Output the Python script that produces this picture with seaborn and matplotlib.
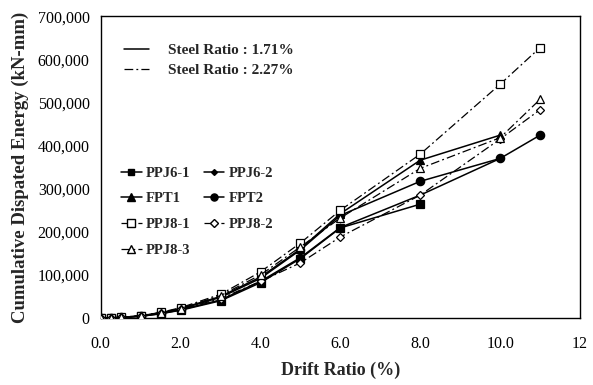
import matplotlib
matplotlib.use("Agg")
import matplotlib.pyplot as plt
from matplotlib.lines import Line2D
from matplotlib.ticker import FuncFormatter, MultipleLocator
import seaborn as sns
import pandas as pd

drift = [0, 0.25, 0.5, 1.0, 1.5, 2.0, 3.0, 4.0, 5.0, 6.0, 8.0, 10.0, 11.0]

names = ["PPJ6-1", "PPJ6-2", "FPT1", "FPT2", "PPJ8-1", "PPJ8-2", "PPJ8-3"]
ppj6_1 = [0, 500, 1000, 4000, 10000, 18000, 40000, 82000, 138000, 209000, 264000]
ppj6_2 = [0, 500, 1000, 4000, 10000, 19000, 42000, 85000, 140000, 210000, 285000, 370000]
fpt1 = [0, 500, 1200, 5000, 12000, 22000, 50000, 95000, 160000, 242000, 366000, 424000]
fpt2 = [0, 500, 1200, 5000, 12000, 21000, 48000, 92000, 158000, 238000, 317000, 370000, 424000]
ppj8_1 = [0, 500, 1500, 5500, 13000, 24000, 55000, 107000, 174000, 250000, 380000, 542000, 627000]
ppj8_2 = [0, 500, 1200, 4500, 11000, 20000, 45000, 85000, 128000, 188000, 285000, 415000, 483000]
ppj8_3 = [0, 500, 1300, 5000, 12000, 22000, 52000, 100000, 165000, 232000, 347000, 418000, 507000]
series = [ppj6_1, ppj6_2, fpt1, fpt2, ppj8_1, ppj8_2, ppj8_3]

rows = []
for n, vals in zip(names, series):
    for x, v in zip(drift, vals):
        rows.append({"specimen": n, "drift": x, "energy": v})
df = pd.DataFrame(rows)

sns.set_style("white")
plt.rcParams["font.family"] = ["Liberation Serif", "DejaVu Serif"]

styles = {
    "PPJ6-1": dict(marker="s", mfc="black", ms=5.5, solid=True),
    "PPJ6-2": dict(marker="D", mfc="black", ms=3.5, solid=True),
    "FPT1": dict(marker="^", mfc="black", ms=6, solid=True),
    "FPT2": dict(marker="o", mfc="black", ms=6, solid=True),
    "PPJ8-1": dict(marker="s", mfc="white", ms=6, solid=False),
    "PPJ8-2": dict(marker="D", mfc="white", ms=4.5, solid=False),
    "PPJ8-3": dict(marker="^", mfc="white", ms=6, solid=False),
}
dashdot = (0, (7, 2.5, 1.5, 2.5))

fig = plt.figure(figsize=(5.93, 3.85), dpi=100)
ax = fig.add_axes([0.170, 0.174, 0.808, 0.784])

for n in names:
    s = styles[n]
    sub = df[df["specimen"] == n]
    sns.lineplot(data=sub, x="drift", y="energy", ax=ax, color="black",
                 linewidth=1.1 if s["solid"] else 0.9,
                 linestyle="-" if s["solid"] else dashdot,
                 marker=s["marker"], markersize=s["ms"],
                 markerfacecolor=s["mfc"], markeredgecolor="black",
                 markeredgewidth=0.9, legend=False, zorder=3)

ax.set_xlim(0, 12)
ax.set_ylim(0, 700000)
ax.xaxis.set_major_locator(MultipleLocator(2))
ax.yaxis.set_major_locator(MultipleLocator(100000))
ax.xaxis.set_major_formatter(FuncFormatter(lambda v, p: "12" if abs(v - 12) < 1e-6 else f"{v:.1f}"))
ax.yaxis.set_major_formatter(FuncFormatter(lambda v, p: f"{int(v):,}"))
ax.tick_params(axis="both", direction="in", length=3, width=0.8, labelsize=11.5, colors="black", pad=8)
ax.tick_params(axis="x", length=0, pad=13)
for sp in ax.spines.values():
    sp.set_color("black")
    sp.set_linewidth(1.0)

ax.set_xlabel("Drift Ratio (%)", fontsize=13, fontweight="bold", labelpad=7)
ax.set_ylabel("Cumulative Dispated Energy (kN-mm)", fontsize=13.5, fontweight="bold", labelpad=6)

# Legend for steel ratio line styles
h1 = [Line2D([], [], color="black", lw=1.1, linestyle="-"),
      Line2D([], [], color="black", lw=0.9, linestyle=dashdot)]
leg1 = ax.legend(h1, ["Steel Ratio : 1.71%", "Steel Ratio : 2.27%"], loc="upper left",
                 bbox_to_anchor=(0.02, 0.955), frameon=False, handlelength=1.6,
                 handletextpad=1.3, labelspacing=0.4,
                 prop={"family": ["Liberation Serif"], "weight": "bold", "size": 11})
ax.add_artist(leg1)

# Legend for specimens
h2 = []
for n in names:
    s = styles[n]
    h2.append(Line2D([], [], color="black", lw=1.1 if s["solid"] else 0.9,
                     linestyle="-" if s["solid"] else dashdot,
                     marker=s["marker"], markersize=s["ms"] * 0.85,
                     markerfacecolor=s["mfc"], markeredgecolor="black"))
order = [0, 2, 4, 6, 1, 3, 5]
leg2 = ax.legend([h2[i] for i in order], [names[i] for i in order], loc="upper left",
                 bbox_to_anchor=(0.015, 0.545), frameon=False, ncol=2,
                 handlelength=1.4, handletextpad=0.3, labelspacing=0.85,
                 columnspacing=0.9,
                 prop={"family": ["Liberation Serif"], "weight": "bold", "size": 10.5})

fig.savefig("out.png", dpi=100)
